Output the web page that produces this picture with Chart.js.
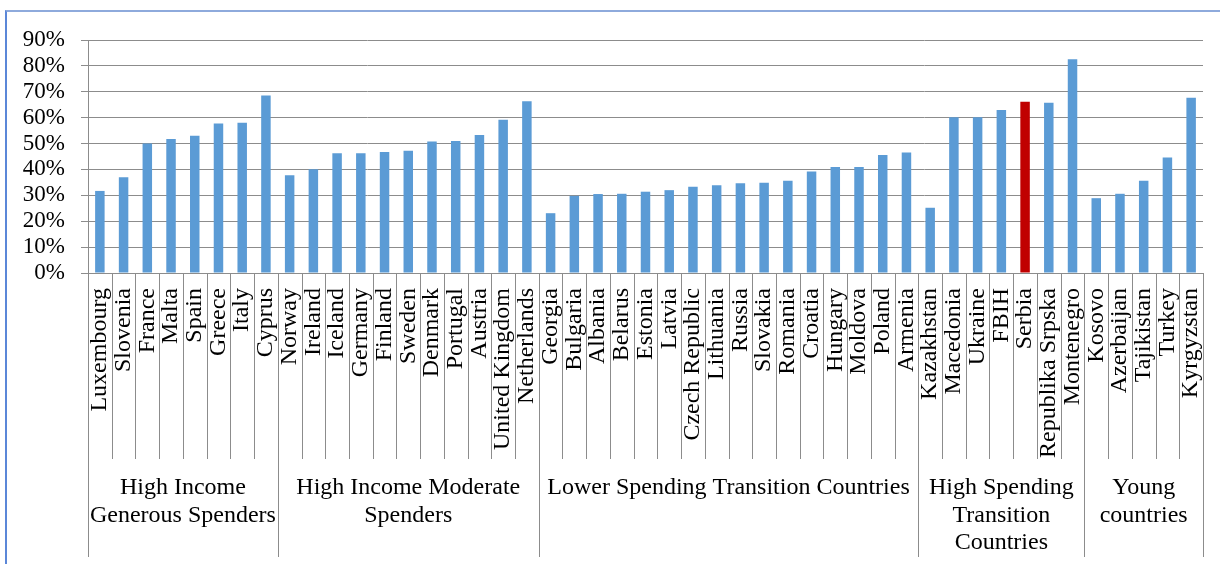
<!DOCTYPE html>
<html><head><meta charset="utf-8">
<script src="https://cdn.jsdelivr.net/npm/chart.js@4"></script>
<style>
html,body{margin:0;padding:0;background:#fff;}
#wrap{position:relative;width:1220px;height:564px;overflow:hidden;background:#fff;}
#frame{position:absolute;left:5px;top:10px;width:1300px;height:700px;border-top:2px solid #8eaadc;border-left:2px solid #5b87d8;box-sizing:border-box;pointer-events:none;}
canvas{position:absolute;left:0;top:0;}
</style></head><body>
<div id="wrap"><canvas id="c" width="1220" height="564"></canvas><div id="frame"></div></div>
<script>
const categories = ["Luxembourg","Slovenia","France","Malta","Spain","Greece","Italy","Cyprus",
  "Norway","Ireland","Iceland","Germany","Finland","Sweden","Denmark","Portugal","Austria","United Kingdom","Netherlands",
  "Georgia","Bulgaria","Albania","Belarus","Estonia","Latvia","Czech Republic","Lithuania","Russia","Slovakia","Romania","Croatia","Hungary","Moldova","Poland","Armenia",
  "Kazakhstan","Macedonia","Ukraine","FBIH","Serbia","Republika Srpska","Montenegro",
  "Kosovo","Azerbaijan","Tajikistan","Turkey","Kyrgyzstan"];
const values = [31.7,37.0,50.0,51.8,53.0,57.7,58.0,68.6,
  37.8,40.1,46.3,46.3,46.7,47.2,50.8,51.0,53.3,59.2,66.3,
  23.1,29.8,30.5,30.6,31.4,32.0,33.3,33.9,34.7,34.9,35.6,39.2,40.9,40.9,45.6,46.5,
  25.2,60.2,60.2,63.0,66.1,65.8,82.6,
  28.9,30.6,35.6,44.6,67.7];
const groupNames = [["High Income","Generous Spenders"],["High Income Moderate","Spenders"],["Lower Spending Transition Countries"],["High Spending","Transition","Countries"],["Young","countries"]];
const groupSizes = [8,11,16,7,5];
const highlight = "Serbia";
const yMax = 90, yStep = 10;

const BLUE = "#5b9bd5", RED = "#c00000", GRID = "#8c8c8c";
const FONT = "'Liberation Serif', 'Times New Roman', serif";

const groupPlugin = {
  id: 'groups',
  afterDraw(chart) {
    const x = chart.scales.x;
    const ctx = chart.ctx;
    const n = categories.length;
    const step = x.getPixelForValue(1) - x.getPixelForValue(0);
    const bound = i => x.getPixelForValue(i) - step / 2;
    const y0 = chart.chartArea.bottom;
    const catEnd = 459, grpEnd = 557;
    const groupBounds = new Set([0]);
    let acc = 0;
    groupSizes.forEach(s => { acc += s; groupBounds.add(acc); });
    ctx.save();
    ctx.strokeStyle = GRID;
    ctx.lineWidth = 1;
    for (let i = 0; i <= n; i++) {
      const px = Math.round(bound(i)) + 0.5;
      ctx.beginPath();
      ctx.moveTo(px, y0);
      ctx.lineTo(px, groupBounds.has(i) ? grpEnd : catEnd);
      ctx.stroke();
    }
    ctx.fillStyle = "#000";
    ctx.font = "24px " + FONT;
    ctx.textAlign = "center";
    ctx.textBaseline = "middle";
    let start = 0;
    groupSizes.forEach((s, g) => {
      const cx = (bound(start) + bound(start + s)) / 2;
      groupNames[g].forEach((line, k) => {
        ctx.fillText(line, cx, 488 + k * 27.5);
      });
      start += s;
    });
    ctx.restore();
  }
};

new Chart(document.getElementById('c'), {
  type: 'bar',
  data: {
    labels: categories,
    datasets: [{
      data: values,
      backgroundColor: categories.map(c => c === highlight ? RED : BLUE),
      borderWidth: 0,
      categoryPercentage: 1,
      barPercentage: 0.4
    }]
  },
  options: {
    responsive: false,
    animation: false,
    layout: { padding: { top: 40, right: 17, bottom: 0, left: 0 } },
    plugins: { legend: { display: false }, tooltip: { enabled: false } },
    scales: {
      x: {
        grid: { display: false, drawTicks: false },
        border: { display: true, color: GRID, width: 1 },
        ticks: { autoSkip: false, minRotation: 90, maxRotation: 90, padding: 15, color: "#000", font: { family: FONT, size: 24 } },
        afterFit: s => { s.height = 291; s.paddingLeft = 0; s.paddingRight = 0; }
      },
      y: {
        min: 0, max: yMax,
        grid: { color: GRID, lineWidth: 1, tickLength: 7, drawTicks: true, tickColor: GRID },
        border: { display: true, color: GRID, width: 1 },
        ticks: { stepSize: yStep, autoSkip: false, padding: 16, color: "#000", font: { family: FONT, size: 23 }, callback: v => v + '%' },
        afterFit: s => { s.width = 88; s.paddingTop = 0; s.paddingBottom = 0; }
      }
    }
  },
  plugins: [groupPlugin]
});
</script>
</body></html>
